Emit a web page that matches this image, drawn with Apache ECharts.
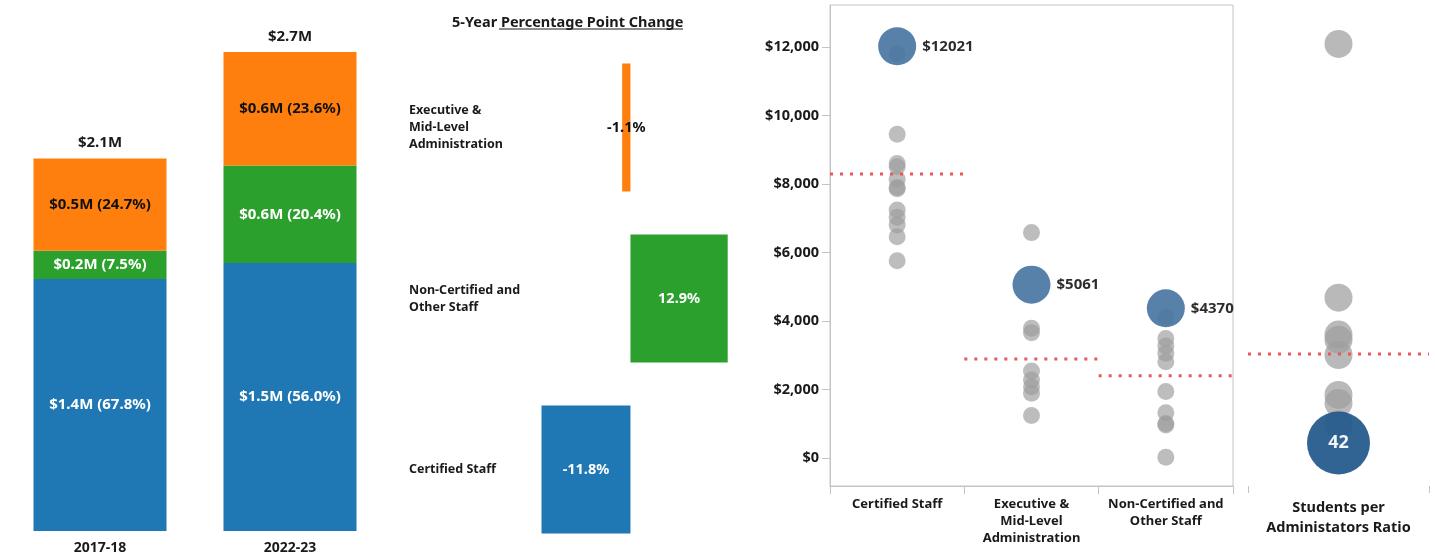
<!DOCTYPE html>
<html>
<head>
<meta charset="utf-8">
<script src="https://cdn.jsdelivr.net/npm/echarts@6/dist/echarts.min.js"></script>
<style>
  html, body { margin: 0; padding: 0; background: #fff; }
  #chart { width: 1435px; height: 560px; }
</style>
</head>
<body>
<div id="chart"></div>
<script>
// stacked spending bars ($M and share of total)
var years = ["2017-18", "2022-23"]
var certifiedM = [1.42, 1.51]
var nonCertM = [0.16, 0.55]
var execM = [0.52, 0.64]
var certifiedPct = [67.8, 56.0]
var nonCertPct = [7.5, 20.4]
var execPct = [24.7, 23.6]
var totalsM = [2.1, 2.7]

// 5-year percentage point change
var changeCats = ["Executive &\nMid-Level\nAdministration", "Non-Certified and\nOther Staff", "Certified Staff"]
var changeVals = [-1.1, 12.9, -11.8]

// per-pupil spending by staff group (grey = peers, blue = this district)
var staffCats = ["Certified Staff", "Executive &\nMid-Level\nAdministration", "Non-Certified and\nOther Staff"]
var certPeers = [11800, 9450, 8600, 8500, 8140, 7900, 7860, 7240, 7030, 6800, 6460, 5760]
var execPeers = [6580, 3790, 3660, 2540, 2280, 2080, 1890, 1240]
var nonCertPeers = [4100, 3490, 3270, 3060, 2810, 1940, 1320, 1010, 960, 20]
var districtVals = [12021, 5061, 4370]
var peerAvg = [8292, 2890, 2404]
var yTicks = [0, 2000, 4000, 6000, 8000, 10000, 12000]

// students per administrator ratio
var ratioCat = ["Students per\nAdministators Ratio"]
var ratioPeers = [432, 184, 148, 143, 128, 89, 81, 60]
var ratioDistrict = 42
var ratioAvg = 129

var blue = "#1f77b4", green = "#2ca02c", orange = "#ff7f0e"
var font = "Noto Sans"
var ink = "#1a1a1a"

function segLabel(vals, pcts, color) {
    return {
        show: true,
        position: "inside",
        color: color,
        fontWeight: "bold",
        fontSize: 15,
        formatter: p => "$" + vals[p.dataIndex].toFixed(1) + "M (" + pcts[p.dataIndex].toFixed(1) + "%)"
    }
}

var peerGroups = [certPeers, execPeers, nonCertPeers]
var peerData = []
peerGroups.forEach((g, i) => g.forEach(v => peerData.push([i, v])))

var avgSeries = peerAvg.map((a, i) => ({
    type: "line",
    xAxisIndex: 3,
    yAxisIndex: 2,
    data: [[i - 0.5, a], [i + 0.5, a]],
    symbol: "none",
    silent: true,
    z: 5,
    lineStyle: { color: "#e8595b", width: 3, type: [3, 7] }
}))

var chart = echarts.init(document.getElementById("chart"))
chart.setOption({
    animation: false,
    textStyle: { fontFamily: font },
    title: {
        left: 447,
        top: 10,
        text: "5-Year Percentage Point Change",
        textStyle: { fontFamily: font, fontWeight: "bold", fontSize: 14.5, color: ink }
    },
    graphic: [{
        type: "line",
        shape: { x1: 499, y1: 29, x2: 683, y2: 29 },
        style: { stroke: ink, lineWidth: 1 }
    }],
    grid: [
        { left: 5, width: 380, top: 52, height: 479 },
        { left: 540, width: 196, top: 42, height: 513 },
        { left: 830, width: 403, top: 5, height: 481, show: true, borderColor: "#c4c4c4", borderWidth: 1 },
        { left: 1248, width: 181, top: 5, height: 481 }
    ],
    xAxis: [
        {
            gridIndex: 0, type: "category", data: years,
            axisLine: { show: false }, axisTick: { show: false },
            axisLabel: { color: ink, fontWeight: "bold", fontSize: 14, margin: 10 }
        },
        { gridIndex: 1, type: "value", min: -12, max: 14, show: false },
        {
            gridIndex: 2, type: "category", data: staffCats,
            axisLine: { onZero: false, lineStyle: { color: "#c4c4c4" } },
            axisTick: { show: true, length: 8, lineStyle: { color: "#c4c4c4" } },
            axisLabel: { interval: 0, color: ink, fontWeight: "bold", fontSize: 13, lineHeight: 17, margin: 10 }
        },
        { gridIndex: 2, type: "value", min: -0.5, max: 2.5, show: false },
        {
            gridIndex: 3, type: "category", data: ratioCat,
            axisLine: { show: false, onZero: false },
            axisTick: { show: true, length: 7, lineStyle: { color: "#c4c4c4" } },
            axisLabel: { interval: 0, color: ink, fontWeight: "bold", fontSize: 14.5, lineHeight: 20, margin: 12 }
        },
        { gridIndex: 3, type: "value", min: -0.5, max: 0.5, show: false }
    ],
    yAxis: [
        { gridIndex: 0, type: "value", min: 0, max: 2.7, show: false },
        {
            gridIndex: 1, type: "category", data: changeCats, inverse: true,
            axisLine: { show: false }, axisTick: { show: false },
            axisLabel: { interval: 0, align: "left", margin: 131, color: ink, fontWeight: "bold", fontSize: 12.5, lineHeight: 17 }
        },
        {
            gridIndex: 2, type: "value", min: -818, max: 13226,
            splitLine: { show: false },
            axisLine: { show: true, onZero: false, lineStyle: { color: "#c4c4c4" } },
            axisTick: { show: true, length: 8, customValues: yTicks, lineStyle: { color: "#c4c4c4" } },
            axisLabel: {
                customValues: yTicks, margin: 11, color: ink, fontWeight: "bold", fontSize: 14.5,
                formatter: v => "$" + v.toLocaleString("en-US")
            }
        },
        { gridIndex: 3, type: "value", min: 0, max: 470, show: false }
    ],
    series: [
        {
            type: "bar", stack: "spend", xAxisIndex: 0, yAxisIndex: 0, barWidth: 133,
            data: certifiedM, itemStyle: { color: blue }, label: segLabel(certifiedM, certifiedPct, "#fff")
        },
        {
            type: "bar", stack: "spend", xAxisIndex: 0, yAxisIndex: 0, barWidth: 133,
            data: nonCertM, itemStyle: { color: green }, label: segLabel(nonCertM, nonCertPct, "#fff")
        },
        {
            type: "bar", stack: "spend", xAxisIndex: 0, yAxisIndex: 0, barWidth: 133,
            data: execM, itemStyle: { color: orange }, label: segLabel(execM, execPct, "#111")
        },
        {
            type: "scatter", xAxisIndex: 0, yAxisIndex: 0, symbolSize: 0, data: totalsM,
            itemStyle: { opacity: 1 },
            label: {
                show: true, position: "top", distance: 8, color: ink, fontWeight: "bold", fontSize: 15,
                formatter: p => "$" + p.value.toFixed(1) + "M"
            }
        },
        {
            type: "bar", xAxisIndex: 1, yAxisIndex: 1, barWidth: 128,
            data: changeVals.map((v, i) => ({
                value: v,
                itemStyle: { color: [orange, green, blue][i] },
                label: { color: i == 0 ? "#111" : "#fff" }
            })),
            label: {
                show: true, position: "inside", fontWeight: "bold", fontSize: 14.5,
                formatter: p => p.value.toFixed(1) + "%"
            }
        },
        {
            type: "scatter", xAxisIndex: 3, yAxisIndex: 2, data: peerData, symbolSize: 17, z: 2,
            itemStyle: { color: "#9e9e9e", opacity: 0.68 }
        },
        {
            type: "scatter", xAxisIndex: 3, yAxisIndex: 2, symbolSize: 38, z: 3,
            data: districtVals.map((v, i) => [i, v]),
            itemStyle: { color: "#4a76a3", opacity: 0.92 },
            label: {
                show: true, position: "right", distance: 6, color: ink, fontWeight: "bold", fontSize: 15,
                formatter: p => "$" + p.value[1]
            }
        }
    ].concat(avgSeries).concat([
        {
            type: "scatter", xAxisIndex: 5, yAxisIndex: 3, symbolSize: 28, z: 2,
            data: ratioPeers.map(v => [0, v]),
            itemStyle: { color: "#9e9e9e", opacity: 0.72 }
        },
        {
            type: "scatter", xAxisIndex: 5, yAxisIndex: 3, symbolSize: 63, z: 3,
            data: [[0, ratioDistrict]],
            itemStyle: { color: "#245a8c", opacity: 0.94 },
            label: {
                show: true, position: "inside", color: "#fff", fontWeight: "bold", fontSize: 18,
                formatter: p => p.value[1]
            }
        },
        {
            type: "line", xAxisIndex: 5, yAxisIndex: 3, symbol: "none", silent: true, z: 5,
            data: [[-0.5, ratioAvg], [0.5, ratioAvg]],
            lineStyle: { color: "#e8595b", width: 3, type: [3, 7] }
        }
    ])
})
</script>
</body>
</html>
